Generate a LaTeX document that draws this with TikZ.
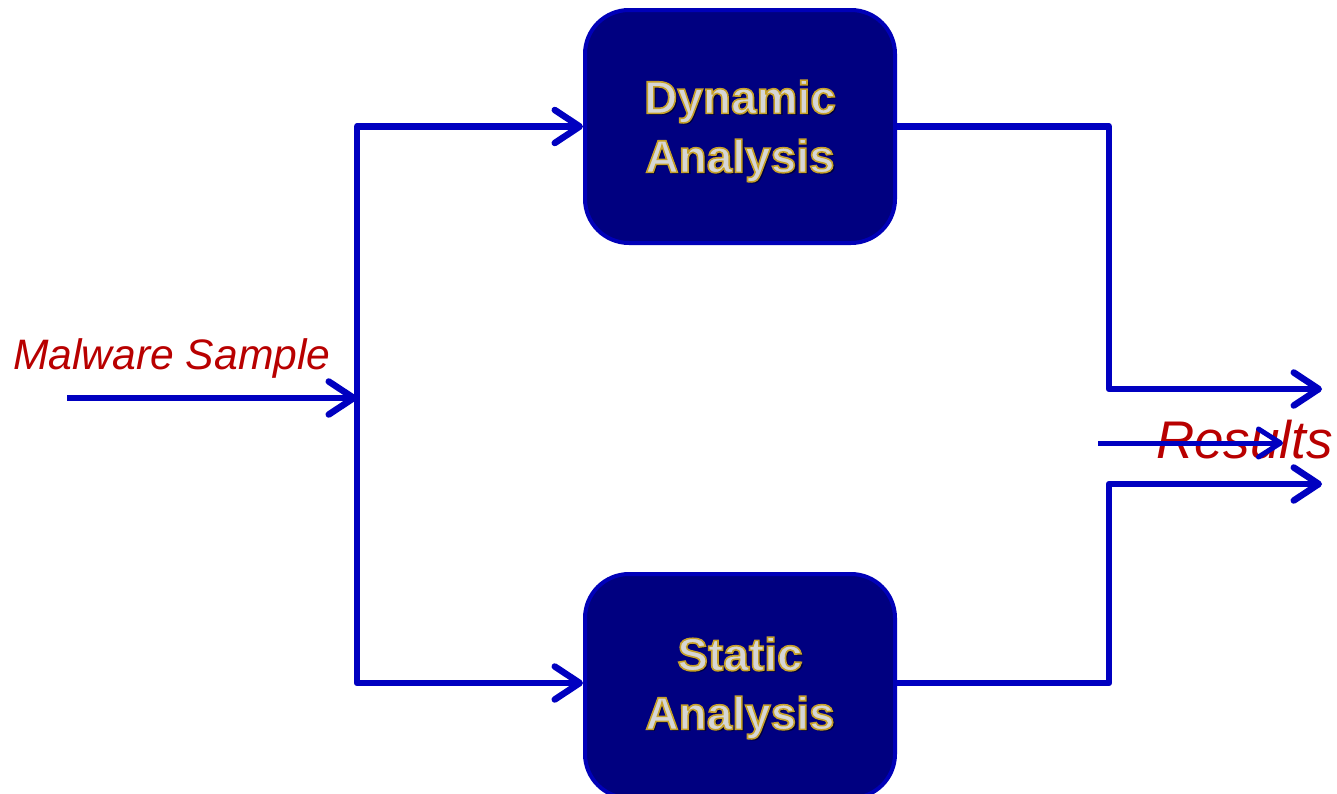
\documentclass[tikz,border=0pt]{standalone}
\usepackage{fontspec}
\setmainfont{Liberation Sans}
\usetikzlibrary{arrows.meta}
\definecolor{lineblue}{RGB}{0,0,192}
\definecolor{boxfill}{RGB}{0,0,128}
\definecolor{boxedge}{RGB}{0,0,184}
\definecolor{txtred}{RGB}{184,0,0}
\definecolor{gold}{RGB}{200,160,40}
\definecolor{silver}{RGB}{214,214,214}
\newcommand\goldstroke[1]{\special{pdf:code q 1.6 w 0.78 0.63 0.16 RG 2 Tr}#1\special{pdf:code 0 Tr Q}}
\tikzset{
  flow/.style={draw=lineblue, line width=6.5pt, line join=round},
  thinflow/.style={draw=lineblue, line width=5pt, line join=round},
  tip/.tip={Straight Barb[length=25pt,width=33pt,round]},
  smalltip/.tip={Straight Barb[length=22pt,width=28pt,round]},
  box/.style={draw=boxedge, fill=boxfill, line width=4pt, rounded corners=44pt,
    minimum width=310pt, inner sep=0pt},
  lbl/.style={align=center, font=\fontsize{46}{59}\selectfont\bfseries, inner sep=0pt},
  redlbl/.style={text=txtred, inner sep=0pt, font=\itshape}
}
\begin{document}
\begin{tikzpicture}[x=1pt,y=-1pt]
\useasboundingbox (0,0) rectangle (1337,793);
% boxes
\node[box, minimum height=233pt] (dyn) at (740,126.5) {};
\node[box, minimum height=224pt] (sta) at (740,686) {};
\node[lbl, text=black, opacity=0.5] (dt-sh) at (742.5,133.5) {Dynamic\\Analysis};
\node[lbl, text=silver] (dt) at (740,131) {\goldstroke{Dynamic}\\\goldstroke{Analysis}};
\node[lbl, text=black, opacity=0.5] (st-sh) at (742.5,690.5) {Static\\Analysis};
\node[lbl, text=silver] (st) at (740,688) {\goldstroke{Static}\\\goldstroke{Analysis}};
% coordinates
\coordinate (src) at (67,398);
\coordinate (j) at (357,398);
\coordinate (jb) at (357,683);
\coordinate (r1) at (1109,389);
\coordinate (o1) at (1322,389);
\coordinate (r2) at (1109,484);
\coordinate (o2) at (1322,484);
\coordinate (m1) at (1098,443);
\coordinate (m2) at (1283,443);
% labels
\node[redlbl, anchor=base west, font=\fontsize{42.6}{50}\selectfont\itshape] (mal) at (13,369) {Malware Sample};
\node[redlbl, anchor=base west, font=\fontsize{53}{60}\selectfont\itshape] (res) at (1156,458) {Results};
% connectors
\draw[flow,-tip] (src) -- (j);
\draw[flow,-tip] (j) |- (dyn.west);
\draw[flow,-tip] (j) |- (jb -| sta.west);
\draw[flow,-tip] (dyn.east) -| (r1) -- (o1);
\draw[flow,-tip] (jb -| sta.east) -| (r2) -- (o2);
\draw[thinflow,-smalltip] (m1) -- (m2);
\end{tikzpicture}
\end{document}
